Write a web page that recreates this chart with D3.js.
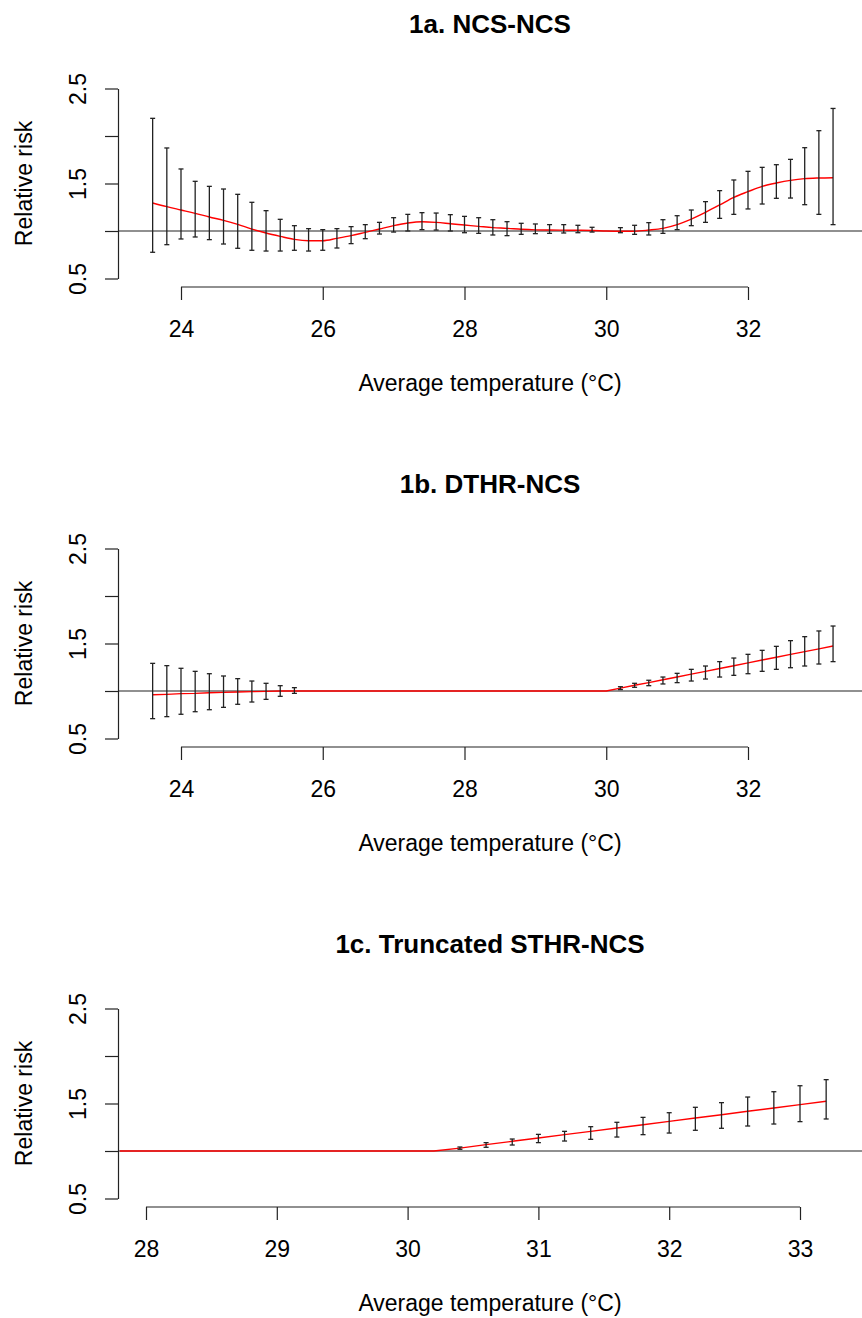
<!DOCTYPE html>
<html>
<head>
<meta charset="utf-8">
<script src="https://cdn.jsdelivr.net/npm/d3@7"></script>
<style>
    body { margin: 0; background: #fff; }
    svg { display: block; }
    text { font-family: "Liberation Sans", Arial, sans-serif; fill: #000; }
</style>
</head>
<body>
<div id="chart"></div>
<script>
// --- DATA ---
const titles = ["1a. NCS-NCS", "1b. DTHR-NCS", "1c. Truncated STHR-NCS"];

// temperature grid used by panels 1a and 1b (°C)
const tempsAB = [23.6, 23.8, 24.0, 24.2, 24.4, 24.6, 24.8, 25.0, 25.2, 25.4,
    25.6, 25.8, 26.0, 26.2, 26.4, 26.6, 26.8, 27.0, 27.2, 27.4,
    27.6, 27.8, 28.0, 28.2, 28.4, 28.6, 28.8, 29.0, 29.2, 29.4,
    29.6, 29.8, 30.0, 30.2, 30.4, 30.6, 30.8, 31.0, 31.2, 31.4,
    31.6, 31.8, 32.0, 32.2, 32.4, 32.6, 32.8, 33.0, 33.2];

// 1a. NCS-NCS
const rr1a = [1.295, 1.256, 1.221, 1.186, 1.147, 1.112, 1.070, 1.020, 0.979, 0.944,
    0.912, 0.898, 0.898, 0.923, 0.951, 0.986, 1.021, 1.056, 1.084, 1.098,
    1.091, 1.077, 1.063, 1.049, 1.035, 1.028, 1.018, 1.012, 1.010, 1.009,
    1.008, 1.006, 1.000, 0.997, 0.998, 1.010, 1.028, 1.067, 1.126, 1.197,
    1.274, 1.354, 1.414, 1.470, 1.505, 1.533, 1.551, 1.558, 1.561];
const lo1a = [0.776, 0.856, 0.916, 0.937, 0.909, 0.863, 0.818, 0.797, 0.789, 0.789,
    0.797, 0.789, 0.797, 0.821, 0.867, 0.919, 0.968, 0.989, 1.000, 1.014,
    1.010, 1.000, 0.982, 0.975, 0.958, 0.951, 0.965, 0.972, 0.975, 0.979,
    0.982, 0.989, 1.000, 0.982, 0.965, 0.958, 0.975, 1.014, 1.056, 1.091,
    1.133, 1.175, 1.232, 1.284, 1.344, 1.347, 1.277, 1.175, 1.067];
const hi1a = [2.186, 1.874, 1.653, 1.523, 1.470, 1.442, 1.386, 1.302, 1.214, 1.123,
    1.056, 1.025, 1.014, 1.025, 1.046, 1.067, 1.091, 1.140, 1.175, 1.193,
    1.189, 1.172, 1.154, 1.140, 1.119, 1.098, 1.081, 1.074, 1.067, 1.067,
    1.060, 1.039, 1.000, 1.035, 1.060, 1.088, 1.119, 1.161, 1.221, 1.309,
    1.425, 1.537, 1.628, 1.670, 1.698, 1.754, 1.877, 2.056, 2.290];

// 1b. DTHR-NCS
const rr1b = [0.961, 0.965, 0.972, 0.975, 0.982, 0.986, 0.989, 0.993, 0.996, 1.000,
    1.000, 1, 1, 1, 1, 1, 1, 1, 1, 1,
    1, 1, 1, 1, 1, 1, 1, 1, 1, 1,
    1, 1, 1, 1.030, 1.060, 1.088, 1.118, 1.148, 1.177, 1.207,
    1.237, 1.266, 1.296, 1.326, 1.355, 1.385, 1.415, 1.444, 1.474];
const lo1b = [0.709, 0.730, 0.755, 0.782, 0.803, 0.828, 0.860, 0.884, 0.912, 0.944,
    0.975, 1, 1, 1, 1, 1, 1, 1, 1, 1,
    1, 1, 1, 1, 1, 1, 1, 1, 1, 1,
    1, 1, 1, 1.015, 1.039, 1.056, 1.074, 1.088, 1.105, 1.126,
    1.147, 1.165, 1.182, 1.207, 1.228, 1.245, 1.263, 1.284, 1.309];
const hi1b = [1.291, 1.267, 1.239, 1.207, 1.182, 1.158, 1.130, 1.105, 1.081, 1.056,
    1.035, 1, 1, 1, 1, 1, 1, 1, 1, 1,
    1, 1, 1, 1, 1, 1, 1, 1, 1, 1,
    1, 1, 1, 1.045, 1.081, 1.113, 1.147, 1.186, 1.228, 1.263,
    1.309, 1.347, 1.386, 1.428, 1.470, 1.530, 1.572, 1.632, 1.684];

// 1c. Truncated STHR-NCS
const temps1c = [27.8, 28.0, 28.2, 28.4, 28.6, 28.8, 29.0, 29.2, 29.4, 29.6,
    29.8, 30.0, 30.2, 30.4, 30.6, 30.8, 31.0, 31.2, 31.4, 31.6,
    31.8, 32.0, 32.2, 32.4, 32.6, 32.8, 33.0, 33.2];
const rr1c = [1, 1, 1, 1, 1, 1, 1, 1, 1, 1,
    1, 1, 1, 1.030, 1.067, 1.102, 1.137, 1.172, 1.207, 1.242,
    1.277, 1.312, 1.347, 1.382, 1.418, 1.453, 1.488, 1.523];
const lo1c = [1, 1, 1, 1, 1, 1, 1, 1, 1, 1,
    1, 1, 1, 1.018, 1.039, 1.063, 1.088, 1.105, 1.123, 1.147,
    1.172, 1.189, 1.218, 1.239, 1.263, 1.284, 1.309, 1.337];
const hi1c = [1, 1, 1, 1, 1, 1, 1, 1, 1, 1,
    1, 1, 1, 1.042, 1.088, 1.126, 1.175, 1.207, 1.256, 1.302,
    1.354, 1.403, 1.460, 1.509, 1.568, 1.624, 1.687, 1.751];

// axis ticks
const yTicks = [0.5, 1.0, 1.5, 2.0, 2.5];
const yTickLabels = ["0.5", "", "1.5", "", "2.5"];
const xTicksAB = [24, 26, 28, 30, 32];
const xTicks1c = [28, 29, 30, 31, 32, 33];

// --- LAYOUT ---
const CONFIG = {
    width: 862,
    height: 1318,
    panelStep: 460,      // vertical distance between panels
    plotLeft: 118,       // y axis position
    yTop: 88.5,          // pixel of 2.5 in first panel
    yBottom: 278.5,      // pixel of 0.5 in first panel
    xAxisY: 287,
    tickLen: 13,
    font: 23,
    titleFont: 26,
    capHalf: 2.5,
    ink: "#222",
    red: "#ff0000"
};

const panels = [
    { title: titles[0], temps: tempsAB, rr: rr1a, lo: lo1a, hi: hi1a, ticks: xTicksAB,
      domain: [24, 32], range: [181, 748], curve: d3.curveMonotoneX },
    { title: titles[1], temps: tempsAB, rr: rr1b, lo: lo1b, hi: hi1b, ticks: xTicksAB,
      domain: [24, 32], range: [181, 748], curve: d3.curveLinear },
    { title: titles[2], temps: temps1c, rr: rr1c, lo: lo1c, hi: hi1c, ticks: xTicks1c,
      domain: [28, 33], range: [146, 800], curve: d3.curveLinear }
];

const svg = d3.select("#chart").append("svg")
    .attr("width", CONFIG.width)
    .attr("height", CONFIG.height);

function renderPanel(p, i) {
    const off = i * CONFIG.panelStep;
    const g = svg.append("g").attr("transform", `translate(0,${off})`);

    const x = d3.scaleLinear().domain(p.domain).range(p.range);
    const y = d3.scaleLinear().domain([0.5, 2.5]).range([CONFIG.yBottom, CONFIG.yTop]);
    const cx = (CONFIG.plotLeft + CONFIG.width) / 2;

    // title
    g.append("text")
        .attr("x", cx)
        .attr("y", 33)
        .attr("text-anchor", "middle")
        .attr("font-size", CONFIG.titleFont)
        .attr("font-weight", "bold")
        .text(p.title);

    // reference line at RR = 1
    g.append("line")
        .attr("x1", CONFIG.plotLeft)
        .attr("x2", CONFIG.width)
        .attr("y1", y(1))
        .attr("y2", y(1))
        .attr("stroke", CONFIG.ink)
        .attr("stroke-width", 1.2);

    const rows = p.temps.map((t, k) => ({ t, rr: p.rr[k], lo: p.lo[k], hi: p.hi[k] }));

    // relative risk curve
    g.append("path")
        .datum(rows)
        .attr("fill", "none")
        .attr("stroke", CONFIG.red)
        .attr("stroke-width", 1.4)
        .attr("d", d3.line().x(d => x(d.t)).y(d => y(d.rr)).curve(p.curve));

    // confidence interval bars (zero-width intervals are not drawn)
    const bars = g.selectAll(".ci")
        .data(rows.filter(d => d.hi - d.lo > 0.001))
        .enter().append("g")
        .attr("class", "ci")
        .attr("stroke", CONFIG.ink)
        .attr("stroke-width", 1.3);

    bars.append("line")
        .attr("x1", d => x(d.t)).attr("x2", d => x(d.t))
        .attr("y1", d => y(d.lo)).attr("y2", d => y(d.hi));
    bars.append("line")
        .attr("x1", d => x(d.t) - CONFIG.capHalf).attr("x2", d => x(d.t) + CONFIG.capHalf)
        .attr("y1", d => y(d.hi)).attr("y2", d => y(d.hi));
    bars.append("line")
        .attr("x1", d => x(d.t) - CONFIG.capHalf).attr("x2", d => x(d.t) + CONFIG.capHalf)
        .attr("y1", d => y(d.lo)).attr("y2", d => y(d.lo));

    // y axis
    const yAxis = g.append("g")
        .attr("transform", `translate(${CONFIG.plotLeft},0)`)
        .call(d3.axisLeft(y)
            .tickValues(yTicks)
            .tickSize(CONFIG.tickLen)
            .tickSizeOuter(0)
            .tickFormat((d, k) => yTickLabels[k]));
    yAxis.select(".domain").attr("stroke", CONFIG.ink).attr("stroke-width", 1.2);
    yAxis.selectAll(".tick line").attr("stroke", CONFIG.ink).attr("stroke-width", 1.2);
    yAxis.selectAll(".tick text")
        .attr("transform", "rotate(-90)")
        .attr("x", 0)
        .attr("y", -32)
        .attr("dy", 0)
        .attr("text-anchor", "middle")
        .attr("font-size", CONFIG.font)
        .attr("fill", "#000");

    // x axis
    const xAxis = g.append("g")
        .attr("transform", `translate(0,${CONFIG.xAxisY})`)
        .call(d3.axisBottom(x)
            .tickValues(p.ticks)
            .tickSize(CONFIG.tickLen)
            .tickSizeOuter(0)
            .tickFormat(d3.format("d")));
    xAxis.select(".domain")
        .attr("d", `M${x(p.ticks[0])},0H${x(p.ticks[p.ticks.length - 1])}`)
        .attr("stroke", CONFIG.ink).attr("stroke-width", 1.2);
    xAxis.selectAll(".tick line").attr("stroke", CONFIG.ink).attr("stroke-width", 1.2);
    xAxis.selectAll(".tick text")
        .attr("y", 50)
        .attr("dy", 0)
        .attr("font-size", CONFIG.font)
        .attr("fill", "#000");

    // axis titles
    g.append("text")
        .attr("x", cx)
        .attr("y", 391)
        .attr("text-anchor", "middle")
        .attr("font-size", CONFIG.font)
        .text("Average temperature (°C)");

    g.append("text")
        .attr("transform", `translate(32,${(CONFIG.yTop + CONFIG.yBottom) / 2}) rotate(-90)`)
        .attr("text-anchor", "middle")
        .attr("font-size", CONFIG.font)
        .text("Relative risk");
}

panels.forEach(renderPanel);
</script>
</body>
</html>
